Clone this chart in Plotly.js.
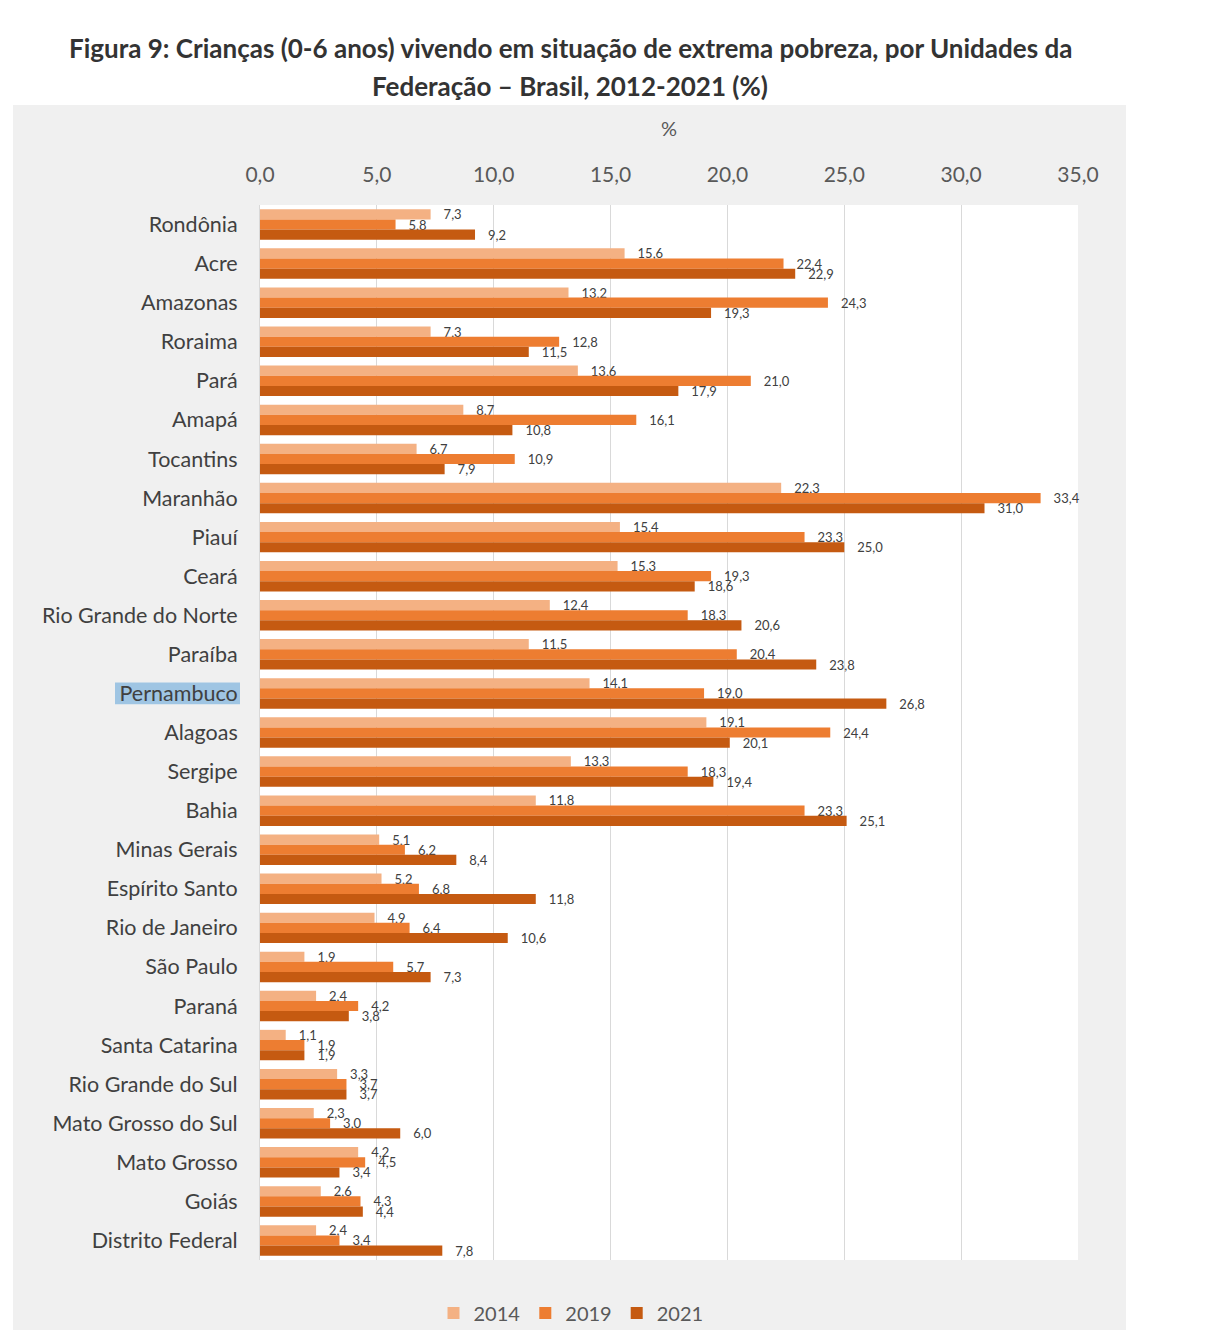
<!DOCTYPE html>
<html>
<head>
<meta charset="utf-8">
<script src="https://cdn.plot.ly/plotly-3.0.1.min.js"></script>
<style>html,body{margin:0;padding:0;background:#fff;}#chart{width:1224px;height:1330px;}</style>
</head>
<body>
<div id="chart"></div>
<script>
const categories = ["Rondônia","Acre","Amazonas","Roraima","Pará","Amapá","Tocantins","Maranhão","Piauí","Ceará","Rio Grande do Norte","Paraíba","Pernambuco","Alagoas","Sergipe","Bahia","Minas Gerais","Espírito Santo","Rio de Janeiro","São Paulo","Paraná","Santa Catarina","Rio Grande do Sul","Mato Grosso do Sul","Mato Grosso","Goiás","Distrito Federal"];
const values2014 = [7.3,15.6,13.2,7.3,13.6,8.7,6.7,22.3,15.4,15.3,12.4,11.5,14.1,19.1,13.3,11.8,5.1,5.2,4.9,1.9,2.4,1.1,3.3,2.3,4.2,2.6,2.4];
const values2019 = [5.8,22.4,24.3,12.8,21.0,16.1,10.9,33.4,23.3,19.3,18.3,20.4,19.0,24.4,18.3,23.3,6.2,6.8,6.4,5.7,4.2,1.9,3.7,3.0,4.5,4.3,3.4];
const values2021 = [9.2,22.9,19.3,11.5,17.9,10.8,7.9,31.0,25.0,18.6,20.6,23.8,26.8,20.1,19.4,25.1,8.4,11.8,10.6,7.3,3.8,1.9,3.7,6.0,3.4,4.4,7.8];
const seriesNames = ["2014","2019","2021"];
const tickVals = [0,5,10,15,20,25,30,35];
const highlighted = "Pernambuco";

const colors = ["#F4B183","#ED7D31","#C55A11"];
const font = "Lato, 'Open Sans', sans-serif";
const series = [values2014, values2019, values2021];

const traces = series.map((vals, i) => ({
  type: "bar",
  orientation: "h",
  name: seriesNames[i],
  y: categories,
  x: vals,
  marker: {color: colors[i]},
  texttemplate: "\u00a0\u00a0\u00a0%{x:.1f}",
  textposition: "outside",
  constraintext: "none",
  cliponaxis: false,
  textfont: {family: font, size: 13, color: "#404040"},
  hoverinfo: "none"
}));

const L = 260, R = 1078, T = 205, B = 1260;
const pw = R - L, ph = B - T;
const px = v => (v - L) / pw;
const py = v => (B - v) / ph;

const hi = categories.indexOf(highlighted);

const layout = {
  width: 1224, height: 1330,
  margin: {l: L, r: 1224 - R, t: T, b: 1330 - B, autoexpand: false},
  paper_bgcolor: "#ffffff",
  plot_bgcolor: "rgba(0,0,0,0)",
  separators: ",.",
  barmode: "group",
  bargap: 0.22,
  bargroupgap: 0,
  showlegend: true,
  legend: {
    orientation: "h", x: px(571), xanchor: "center", y: py(1313), yanchor: "middle",
    font: {family: font, size: 20, color: "#595959"}, bgcolor: "rgba(0,0,0,0)",
    itemwidth: 30, traceorder: "normal"
  },
  xaxis: {
    side: "top", range: [0, 35], tickvals: tickVals, tickformat: ".1f",
    showgrid: true, gridcolor: "#d9d9d9", gridwidth: 1, zeroline: false,
    showline: false, ticks: "", ticklabelstandoff: 18,
    tickfont: {family: font, size: 21, color: "#595959"},
    title: {text: "%", font: {family: font, size: 20, color: "#595959"}, standoff: 18},
    fixedrange: true
  },
  yaxis: {
    type: "category", range: [categories.length - 0.5, -0.5],
    showgrid: false, zeroline: false, showline: true, linecolor: "#d9d9d9", linewidth: 1,
    ticks: "", ticklabelstandoff: 17,
    tickfont: {family: font, size: 21.5, color: "#404040"},
    fixedrange: true
  },
  shapes: [
    {type: "rect", xref: "paper", yref: "paper", x0: px(13), x1: px(1126), y0: py(1330), y1: py(105),
     fillcolor: "#f0f0f0", line: {width: 0}, layer: "below"},
    {type: "rect", xref: "paper", yref: "paper", x0: 0, x1: 1, y0: 0, y1: 1,
     fillcolor: "#ffffff", line: {width: 0}, layer: "below"},
    {type: "rect", xref: "paper", yref: "y", x0: px(115), x1: px(240), y0: hi - 0.28, y1: hi + 0.28,
     fillcolor: "#9fc5e3", line: {width: 0}, layer: "below"}
  ],
  annotations: [
    {xref: "paper", yref: "paper", x: px(570), y: py(48), xanchor: "center", yanchor: "middle",
     text: "<b>Figura 9: Crianças (0-6 anos) vivendo em situação de extrema pobreza, por Unidades da</b>",
     showarrow: false, font: {family: font, size: 26, color: "#333333"}},
    {xref: "paper", yref: "paper", x: px(570), y: py(86), xanchor: "center", yanchor: "middle",
     text: "<b>Federação – Brasil, 2012-2021 (%)</b>",
     showarrow: false, font: {family: font, size: 26, color: "#333333"}}
  ]
};

Plotly.newPlot("chart", traces, layout, {displayModeBar: false, staticPlot: true});
</script>
</body>
</html>
